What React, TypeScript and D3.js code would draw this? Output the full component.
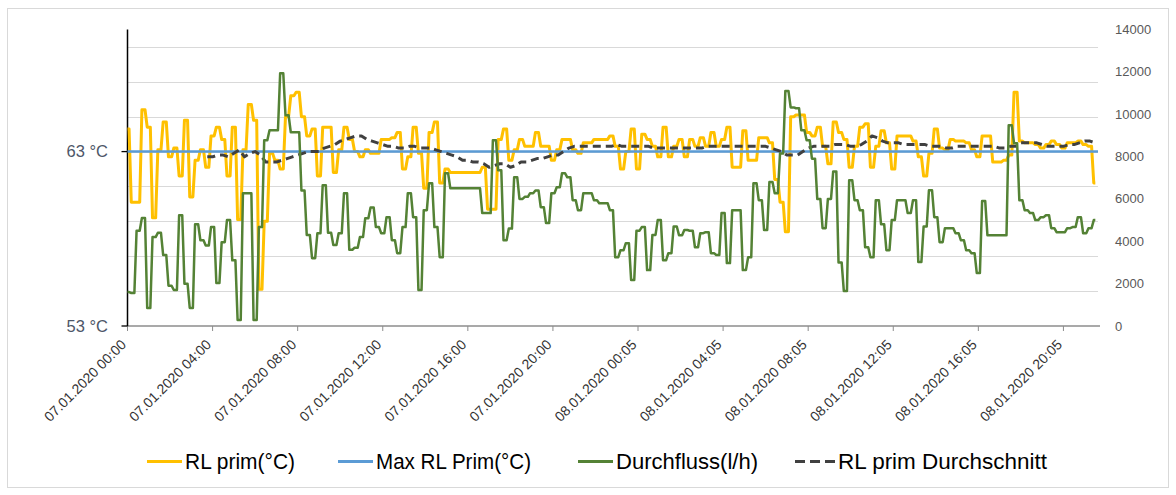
import React from "react";
import * as d3 from "d3";

// X axis tick labels (every 16th 15-minute sample = 4 hours)
const tickLabels = [
  "07.01.2020 00:00",
  "07.01.2020 04:00",
  "07.01.2020 08:00",
  "07.01.2020 12:00",
  "07.01.2020 16:00",
  "07.01.2020 20:00",
  "08.01.2020 00:05",
  "08.01.2020 04:05",
  "08.01.2020 08:05",
  "08.01.2020 12:05",
  "08.01.2020 16:05",
  "08.01.2020 20:05",
];
const tickStep = 16;

// RL prim (°C), 15-minute samples
const rlPrim = [
  64.3, 60.1, 60.1, 65.4, 64.4, 59.2, 63.1, 64.7, 62.7, 63.2,
  61.6, 64.8, 60.4, 62.5, 63.1, 62.1, 63.9, 64.4, 63.7, 61.6,
  64.4, 59.1, 63.1, 65.7, 64.8, 55.1, 59.0, 62.9, 62.5, 62.0,
  65.0, 66.2, 66.4, 65.0, 63.9, 64.3, 61.6, 64.4, 64.4, 61.8,
  63.1, 64.4, 63.7, 63.0, 62.7, 63.1, 62.9, 62.9, 63.7, 63.7,
  63.8, 64.1, 62.0, 62.7, 64.4, 62.9, 60.9, 64.1, 64.7, 61.2,
  62.0, 61.8, 61.8, 61.8, 61.8, 61.8, 61.8, 62.1, 59.7, 59.7,
  63.7, 64.3, 62.5, 63.1, 63.7, 63.3, 63.3, 64.1, 63.3, 63.3,
  62.5, 63.1, 63.7, 63.7, 63.1, 62.9, 63.5, 63.5, 63.7, 63.7,
  63.7, 63.9, 63.3, 62.0, 63.0, 64.3, 62.0, 64.0, 63.7, 63.3,
  62.7, 64.4, 62.7, 63.3, 63.7, 62.7, 63.7, 63.3, 63.8, 63.3,
  64.1, 63.3, 63.7, 64.4, 62.1, 62.1, 64.2, 62.5, 62.5, 63.8,
  63.8, 63.5, 61.4, 60.1, 58.4, 65.0, 65.1, 65.1, 64.1, 63.9,
  64.4, 63.3, 62.3, 64.7, 64.1, 63.7, 62.1, 63.3, 64.4, 64.6,
  62.1, 63.3, 64.2, 63.5, 62.0, 63.9, 63.9, 63.9, 63.6, 62.7,
  61.6, 62.9, 64.3, 63.2, 63.1, 63.7, 63.6, 63.6, 63.5, 63.1,
  62.7, 63.9, 63.9, 62.4, 62.4, 62.5, 62.8, 66.4, 63.6, 63.5,
  63.5, 63.4, 63.2, 63.4, 63.6, 63.4, 63.2, 63.5, 63.5, 63.6,
  63.4, 63.3, 61.2,
];

// Max RL Prim (°C) – constant limit
const maxRlPrim = 63;

// Durchfluss (l/h), secondary axis, 15-minute samples
const durchfluss = [
  1600, 1560, 4500, 5100, 850, 4200, 4400, 3350, 1900, 1700,
  5230, 2000, 850, 4800, 4050, 3800, 4670, 2030, 3960, 5000,
  3100, 280, 6270, 6270, 280, 4670, 8770, 9240, 9240, 11930,
  9950, 9150, 9150, 6400, 4300, 3200, 4380, 6650, 4400, 3820,
  4380, 6270, 3600, 3700, 4200, 5090, 5600, 4670, 4380, 5140,
  4050, 3440, 4670, 6270, 5140, 1700, 5470, 6740, 4670, 3250,
  7210, 6500, 6500, 6500, 6500, 6500, 6500, 5330, 5330, 8770,
  7350, 4050, 4600, 7020, 6000, 6100, 6270, 6400, 5610, 4860,
  6270, 6550, 7210, 7020, 5940, 5470, 6270, 6270, 5940, 5800,
  5800, 5470, 3250, 3580, 3910, 2170, 4500, 4670, 2640, 4300,
  5000, 3110, 3440, 4700, 4290, 4530, 4500, 3720, 4380, 4430,
  3440, 3350, 5330, 2970, 5470, 5470, 2640, 3250, 6740, 5940,
  4530, 6800, 6270, 8150, 11100, 10320, 10280, 9240, 8770, 7900,
  6000, 4620, 6000, 7300, 3000, 1650, 6880, 5940, 5470, 3720,
  3250, 5940, 4800, 3580, 5000, 5940, 5940, 5330, 5940, 3020,
  4700, 6410, 5140, 3960, 4620, 4620, 4380, 4050, 3580, 3440,
  2500, 5900, 4290, 4290, 4290, 4290, 9480, 8630, 5940, 5470,
  5330, 5000, 5140, 5230, 4620, 4430, 4430, 4620, 4670, 5140,
  4380, 4620, 5000,
];

// RL prim Durchschnitt (°C), starts later
const rlDurchschnitt: (number | null)[] = [
  null, null, null, null, null, null, null, null, null, null,
  null, null, null, null, null, 62.7, 62.7, 62.8, 62.8, 62.7,
  62.9, 63.1, 62.7, 62.9, 63.0, 62.8, 62.4, 62.4, 62.4, 62.5,
  62.6, 62.7, 62.8, 62.9, 63.0, 63.0, 63.0, 63.2, 63.3, 63.4,
  63.6, 63.7, 63.8, 63.9, 63.9, 63.7, 63.6, 63.5, 63.4, 63.3,
  63.3, 63.2, 63.2, 63.3, 63.3, 63.2, 63.2, 63.2, 63.1, 63.0,
  62.9, 62.8, 62.7, 62.5, 62.5, 62.4, 62.4, 62.3, 62.1, 62.2,
  62.3, 62.3, 62.1, 62.2, 62.4, 62.4, 62.5, 62.6, 62.6, 62.7,
  62.8, 62.8, 63.0, 63.2, 63.3, 63.3, 63.3, 63.3, 63.3, 63.3,
  63.3, 63.3, 63.4, 63.3, 63.3, 63.3, 63.3, 63.3, 63.3, 63.2,
  63.2, 63.2, 63.2, 63.2, 63.2, 63.2, 63.2, 63.2, 63.2, 63.3,
  63.3, 63.3, 63.3, 63.3, 63.3, 63.3, 63.3, 63.3, 63.3, 63.3,
  63.3, 63.2, 63.1, 63.0, 62.8, 62.8, 62.8, 63.0, 63.2, 63.3,
  63.3, 63.3, 63.3, 63.4, 63.4, 63.4, 63.3, 63.3, 63.4, 63.6,
  63.9, 63.8, 63.6, 63.5, 63.5, 63.5, 63.4, 63.4, 63.4, 63.4,
  63.4, 63.3, 63.3, 63.3, 63.2, 63.2, 63.3, 63.3, 63.3, 63.3,
  63.3, 63.3, 63.3, 63.3, 63.2, 63.2, 63.3, 63.3, 63.5, 63.5,
  63.5, 63.5, 63.4, 63.3, 63.3, 63.3, 63.3, 63.4, 63.4, 63.5,
  63.6, 63.6, 63.5,
];

const leftGrid = [55, 57, 59, 61, 63, 65, 67, 69];
const leftLabels = [53, 63];
const rightTicks = [0, 2000, 4000, 6000, 8000, 10000, 12000, 14000];

const legendItems = [
  { label: "RL prim(°C)", color: "#FFC000", dash: "" },
  { label: "Max RL Prim(°C)", color: "#5B9BD5", dash: "" },
  { label: "Durchfluss(l/h)", color: "#548235", dash: "" },
  { label: "RL prim Durchschnitt", color: "#404040", dash: "10 5" },
];

// A step curve whose risers are slightly slanted (like 5-minute data between 15-minute plateaus)
function curveSlantStep(half: number) {
  return (context: any) => {
    let px = 0;
    let py = 0;
    let pt = 0;
    return {
      areaStart() {},
      areaEnd() {},
      lineStart() {
        pt = 0;
      },
      lineEnd() {
        if (pt > 0) context.lineTo(px, py);
      },
      point(x: number, y: number) {
        if (pt === 0) {
          context.moveTo(x, y);
          pt = 1;
        } else {
          const mx = (px + x) / 2;
          context.lineTo(mx - half, py);
          context.lineTo(mx + half, y);
          pt = 2;
        }
        px = x;
        py = y;
      },
    };
  };
}

export default function App() {
  const W = 1176;
  const H = 495;
  const left = 127.5;
  const right = 1098;
  const top = 29.5;
  const bottom = 326;
  const font = "'Liberation Sans', Arial, sans-serif";

  const x = d3.scaleLinear().domain([0, 182.5]).range([left, right]);
  const yL = d3.scaleLinear().domain([53, 70]).range([bottom, top]);
  const yR = d3.scaleLinear().domain([0, 14000]).range([bottom, top]);

  const lineL = d3
    .line<number | null>()
    .defined((d) => d != null)
    .x((_, i) => x(i))
    .y((d) => yL(d as number));
  const slant = curveSlantStep(1.1) as any;
  const stepL = d3
    .line<number>()
    .curve(slant)
    .x((_, i) => x(i))
    .y((d) => yL(d));
  const stepR = d3
    .line<number>()
    .curve(slant)
    .x((_, i) => x(i))
    .y((d) => yR(d));

  // legend layout: start of each symbol, symbol length, text widths like the original
  const legendX = [147, 338, 578, 795];
  const legendLen = [35, 35, 35, 40];
  const legendTextW = [110, 155, 142, 209];
  const legendY = 461.5;

  return (
    <svg
      width={W}
      height={H}
      style={{ position: "absolute", left: 0, top: 0, background: "#fff" }}
    >
      <rect x={7.5} y={8.5} width={1161} height={479} fill="#fff" stroke="#d9d9d9" />

      {/* gridlines */}
      {leftGrid.map((v) => (
        <line
          key={v}
          x1={left}
          x2={right}
          y1={Math.round(yL(v)) + 0.5}
          y2={Math.round(yL(v)) + 0.5}
          stroke="#d9d9d9"
          strokeWidth={1}
        />
      ))}

      {/* x axis */}
      <line x1={left} x2={right + 2} y1={bottom} y2={bottom} stroke="#8c8c8c" strokeWidth={1.3} />
      {tickLabels.map((t, k) => {
        const tx = x(k * tickStep);
        return (
          <g key={t}>
            <line x1={tx} x2={tx} y1={bottom} y2={bottom + 5} stroke="#8c8c8c" strokeWidth={1} />
            <text
              transform={`translate(${tx - 4},${bottom + 16}) rotate(-45)`}
              textAnchor="end"
              dy="0.35em"
              fontFamily={font}
              fontSize={14}
              fill="#333"
            >
              {t}
            </text>
          </g>
        );
      })}

      {/* left axis */}
      <line x1={left} x2={left} y1={top} y2={bottom} stroke="#000" strokeWidth={1.5} />
      {leftLabels.map((v) => (
        <g key={v}>
          <line x1={left - 6} x2={left} y1={yL(v)} y2={yL(v)} stroke="#000" strokeWidth={1.3} />
          <text
            x={108}
            y={yL(v)}
            dy="0.35em"
            textAnchor="end"
            fontFamily={font}
            fontSize={16.5}
            fill="#4d5668"
          >
            {`${v} °C`}
          </text>
        </g>
      ))}

      {/* right axis labels */}
      {rightTicks.map((v) => (
        <text
          key={v}
          x={1115}
          y={yR(v)}
          dy="0.35em"
          textAnchor="start"
          fontFamily={font}
          fontSize={13}
          fill="#595959"
        >
          {v}
        </text>
      ))}

      {/* series */}
      <path
        d={stepL(rlPrim) || ""}
        fill="none"
        stroke="#FFC000"
        strokeWidth={3}
        strokeLinejoin="round"
      />
      <line
        x1={x(0)}
        x2={right}
        y1={yL(maxRlPrim)}
        y2={yL(maxRlPrim)}
        stroke="#5B9BD5"
        strokeWidth={2.5}
      />
      <path
        d={lineL(rlDurchschnitt) || ""}
        fill="none"
        stroke="#404040"
        strokeWidth={3}
        strokeDasharray="8 5"
        strokeLinejoin="round"
      />
      <path
        d={stepR(durchfluss) || ""}
        fill="none"
        stroke="#548235"
        strokeWidth={2.5}
        strokeLinejoin="round"
      />

      {/* legend */}
      {legendItems.map((it, i) => (
        <g key={it.label}>
          <line
            x1={legendX[i]}
            x2={legendX[i] + legendLen[i]}
            y1={legendY}
            y2={legendY}
            stroke={it.color}
            strokeWidth={3}
            strokeDasharray={it.dash || undefined}
          />
          <text
            x={legendX[i] + legendLen[i] + 3}
            y={legendY}
            dy="0.35em"
            fontFamily={font}
            fontSize={22.5}
            fill="#000"
            textLength={legendTextW[i]}
            lengthAdjust="spacingAndGlyphs"
          >
            {it.label}
          </text>
        </g>
      ))}
    </svg>
  );
}
